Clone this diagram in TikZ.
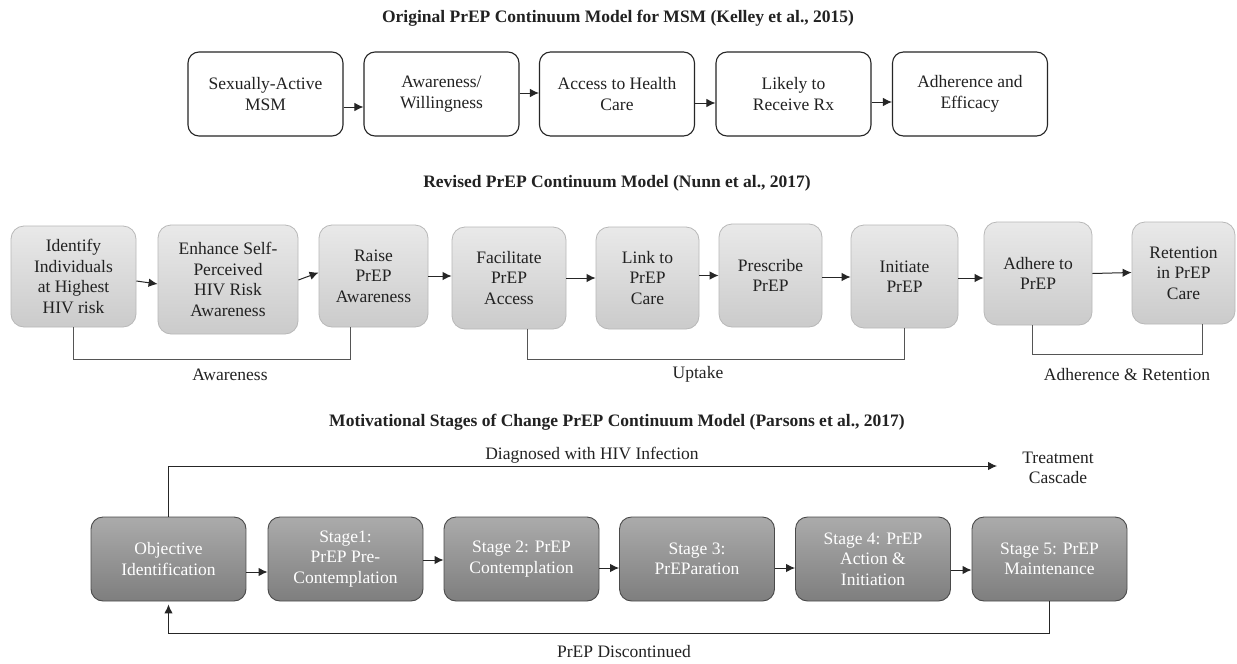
\documentclass[tikz,border=0pt]{standalone}
\usepackage{fontspec}
\setmainfont{Liberation Serif}
\usetikzlibrary{arrows.meta,calc}
\definecolor{txt}{HTML}{222222}
\definecolor{midtop}{HTML}{E9E9E9}
\definecolor{midbot}{HTML}{CBCBCB}
\definecolor{midline}{HTML}{B8B8B8}
\definecolor{bottop}{HTML}{ABABAB}
\definecolor{botbot}{HTML}{7E7E7E}
\definecolor{botline}{HTML}{4A4A4A}
\definecolor{conn}{HTML}{555555}
\tikzset{
  bodyfont/.style={font=\fontsize{17.5}{20.5}\selectfont},
  titlefont/.style={font=\fontsize{17.5}{20}\selectfont\bfseries, text=txt},
  topbox/.style={bodyfont, text=txt, draw=black!85, line width=1.1pt, rounded corners=11pt,
     fill=white, align=center, inner sep=0pt, minimum width=155pt, minimum height=84pt},
  midbox/.style={bodyfont, text=txt, draw=midline, line width=0.8pt, rounded corners=13pt,
     top color=midtop, bottom color=midbot, align=center, inner sep=0pt},
  botbox/.style={bodyfont, text=white, draw=botline, line width=0.9pt, rounded corners=12pt,
     top color=bottop, bottom color=botbot, align=center, inner sep=0pt,
     minimum width=155pt, minimum height=84pt},
  arr/.style={-{Latex[length=9pt,width=8.5pt]}, line width=1pt, draw=black!85},
  brk/.style={line width=1pt, draw=conn},
  lbl/.style={bodyfont, text=txt, align=center, inner sep=0pt}
}
\begin{document}
\begin{tikzpicture}[x=1pt,y=-1pt]
\fill[white] (0,0) rectangle (1237,664);
\useasboundingbox (0,0) rectangle (1237,664);

% ---- Section 1
\node[titlefont] (title1) at (618,18) {Original PrEP Continuum Model for MSM (Kelley et al., 2015)};
\node[topbox] (t1) at (265.5,94) {Sexually-Active\\MSM};
\node[topbox] (t2) at (441.5,94) {Awareness/\\Willingness};
\node[topbox] (t3) at (617,94) {Access to Health\\Care};
\node[topbox] (t4) at (793.5,94) {Likely to\\Receive Rx};
\node[topbox] (t5) at (970,94) {Adherence and\\Efficacy};
\draw[arr] ([yshift=-13pt]t1.east) -- ([yshift=-13pt]t2.west);
\draw[arr] ([yshift=1pt]t2.east) -- ([yshift=1pt]t3.west);
\draw[arr] ([yshift=-9pt]t3.east) -- ([yshift=-9pt]t4.west);
\draw[arr] ([yshift=-8pt]t4.east) -- ([yshift=-8pt]t5.west);

% ---- Section 2
\node[titlefont] (title2) at (617,183) {Revised PrEP Continuum Model (Nunn et al., 2017)};
\node[midbox, minimum width=125pt, minimum height=101pt] (m1) at (73.5,276.5) {Identify\\Individuals\\at Highest\\HIV risk};
\node[midbox, minimum width=140pt, minimum height=109pt] (m2) at (228,279.5) {Enhance Self-\\Perceived\\HIV Risk\\Awareness};
\node[midbox, minimum width=109pt, minimum height=102pt] (m3) at (373.5,276) {Raise\\PrEP\\Awareness};
\node[midbox, minimum width=114pt, minimum height=102pt] (m4) at (509,278) {Facilitate\\PrEP\\Access};
\node[midbox, minimum width=103pt, minimum height=102pt] (m5) at (647.5,278) {Link to\\PrEP\\Care};
\node[midbox, minimum width=103pt, minimum height=103pt] (m6) at (770.5,275.5) {Prescribe\\PrEP};
\node[midbox, minimum width=107pt, minimum height=103pt] (m7) at (904.5,276.5) {Initiate\\PrEP};
\node[midbox, minimum width=108pt, minimum height=103pt] (m8) at (1038,273.5) {Adhere to\\PrEP};
\node[midbox, minimum width=103pt, minimum height=102pt] (m9) at (1183.5,273) {Retention\\in PrEP\\Care};
\draw[arr] ([yshift=-4.5pt]m1.east) -- ([yshift=-4.5pt]m2.west);
\draw[arr] ([yshift=-0.5pt]m2.east) -- ([yshift=3.5pt]m3.west);
\draw[arr] (m3.east) -- (m4.west |- m3.east);
\draw[arr] (m4.east) -- (m5.west);
\draw[arr] ([yshift=2.5pt]m5.east) -- ([yshift=0pt]m6.west);
\draw[arr] ([yshift=-1.5pt]m6.east) -- ([yshift=-0.5pt]m7.west);
\draw[arr] ([yshift=-1.5pt]m7.east) -- ([yshift=-4.5pt]m8.west);
\draw[arr] (m8.east) -- ([yshift=0.5pt]m9.west);
\coordinate (aw) at (350,359);
\draw[brk] (m1.south) |- (aw) -- (aw |- m3.south);
\coordinate (up1) at (527,359);
\draw[brk] (up1 |- m4.south) -- (up1) -| (m7.south);
\coordinate (ad1) at (1032,354);
\coordinate (ad2) at (1202,354);
\draw[brk] (ad1 |- m8.south) -- (ad1) -- (ad2) -- (ad2 |- m9.south);
\node[lbl] (lawa) at (230,375) {Awareness};
\node[lbl] (lupt) at (698,374) {Uptake};
\node[lbl] (ladh) at (1127,375) {Adherence \& Retention};

% ---- Section 3
\node[titlefont] (title3) at (617,422) {Motivational Stages of Change PrEP Continuum Model (Parsons et al., 2017)};
\node[botbox] (b0) at (168.5,559) {Objective\\Identification};
\node[botbox] (b1) at (345.5,559) {Stage1:\\PrEP Pre-\\Contemplation};
\node[botbox] (b2) at (521.5,559) {Stage 2: PrEP\\Contemplation};
\node[botbox] (b3) at (697,559) {Stage 3:\\PrEParation};
\node[botbox] (b4) at (873,559) {Stage 4: PrEP\\Action \&\\Initiation};
\node[botbox] (b5) at (1049.5,559) {Stage 5: PrEP\\Maintenance};
\draw[arr] ([yshift=-13pt]b0.east) -- ([yshift=-13pt]b1.west);
\draw[arr] ([yshift=-1pt]b1.east) -- ([yshift=-1pt]b2.west);
\draw[arr] ([yshift=-9pt]b2.east) -- ([yshift=-9pt]b3.west);
\draw[arr] ([yshift=-9pt]b3.east) -- ([yshift=-9pt]b4.west);
\draw[arr] ([yshift=-11pt]b4.east) -- ([yshift=-11pt]b5.west);
\coordinate (dg) at (997,466);
\draw[arr] (b0.north) |- (dg);
\node[lbl] (ldiag) at (592,455) {Diagnosed with HIV Infection};
\node[lbl] (ltreat) at (1058,468) {Treatment\\Cascade};
\coordinate (pd) at (0,633);
\draw[arr, shorten >=3pt] (b5.south) |- (b0.south |- pd) -- (b0.south);
\node[lbl] (ldisc) at (624,652) {PrEP Discontinued};
\end{tikzpicture}
\end{document}
